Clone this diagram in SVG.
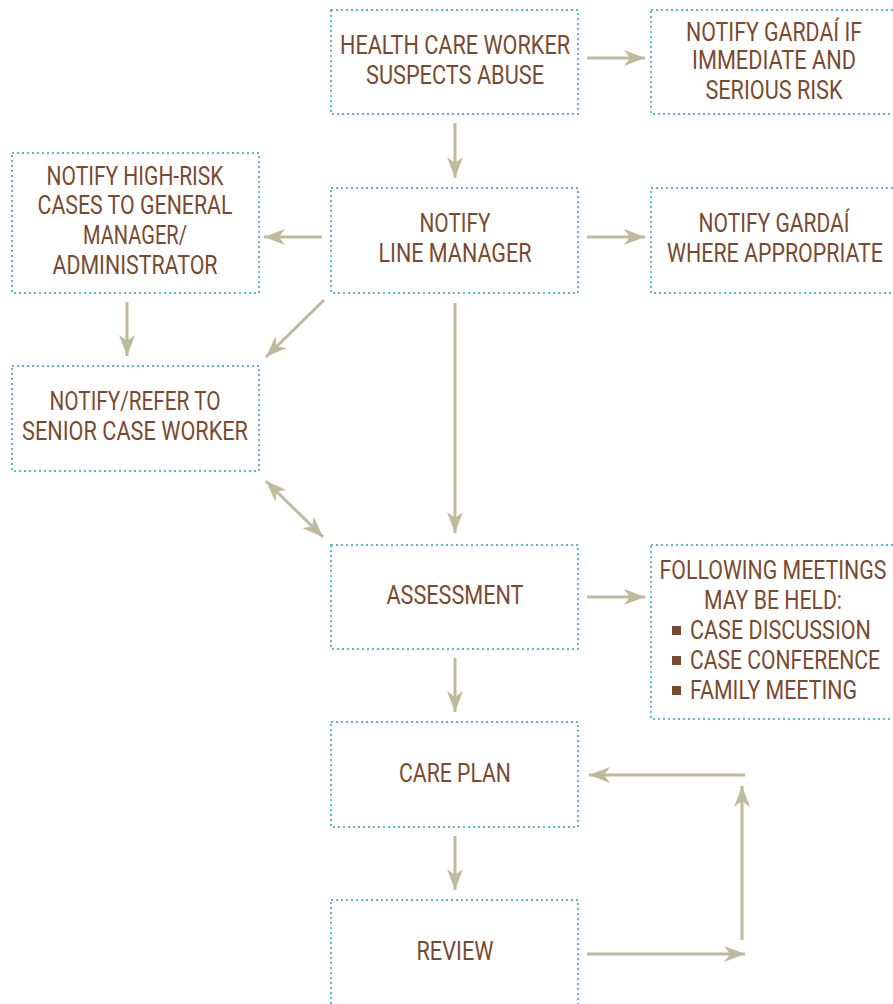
<svg xmlns="http://www.w3.org/2000/svg" width="893" height="1004" viewBox="0 0 893 1004">
<style>
.box{fill:none;stroke:#56bccb;stroke-width:2;stroke-dasharray:2 3}
.t{font-family:Roboto,"Liberation Sans",sans-serif;font-size:26px;fill:#7a4a30;text-anchor:middle}
.tl{font-family:Roboto,"Liberation Sans",sans-serif;font-size:26px;fill:#7a4a30}
.c{stroke:#bdbb9c;stroke-width:3;fill:none}
.bul{fill:#7a4a30}
</style>
<defs>
<marker id="ah" markerUnits="userSpaceOnUse" markerWidth="22" markerHeight="18" viewBox="0 0 22 18" refX="21" refY="9" orient="auto-start-reverse">
<path d="M0,1 L21,9 L0,17 L6,9 z" fill="#bdbb9c"/>
</marker>
</defs>
<rect width="893" height="1004" fill="#ffffff"/>
<g id="connectors">
<line class="c" x1="587" y1="58" x2="645" y2="58" marker-end="url(#ah)"/>
<line class="c" x1="455" y1="123" x2="455" y2="178" marker-end="url(#ah)"/>
<line class="c" x1="322" y1="237" x2="264" y2="237" marker-end="url(#ah)"/>
<line class="c" x1="587" y1="237" x2="645" y2="237" marker-end="url(#ah)"/>
<line class="c" x1="127" y1="302" x2="127" y2="356" marker-end="url(#ah)"/>
<line class="c" x1="324" y1="300" x2="266" y2="357" marker-end="url(#ah)"/>
<line class="c" x1="455" y1="303" x2="455" y2="533" marker-end="url(#ah)"/>
<line class="c" x1="266" y1="481" x2="323" y2="537" marker-start="url(#ah)" marker-end="url(#ah)"/>
<line class="c" x1="587" y1="597" x2="645" y2="597" marker-end="url(#ah)"/>
<line class="c" x1="455" y1="658" x2="455" y2="712" marker-end="url(#ah)"/>
<line class="c" x1="455" y1="836" x2="455" y2="890" marker-end="url(#ah)"/>
<line class="c" x1="587" y1="954" x2="745" y2="954" marker-end="url(#ah)"/>
<line class="c" x1="742" y1="940" x2="742" y2="786" marker-end="url(#ah)"/>
<line class="c" x1="745" y1="775" x2="589" y2="775" marker-end="url(#ah)"/>
</g>
<g id="n-hcw">
<rect class="box" x="331" y="10" width="247" height="104"/>
<text class="t" x="455" y="54" textLength="230" lengthAdjust="spacingAndGlyphs">HEALTH CARE WORKER</text>
<text class="t" x="455" y="84" textLength="178" lengthAdjust="spacingAndGlyphs">SUSPECTS ABUSE</text>
</g>
<g id="n-gardai-immediate">
<rect class="box" x="651" y="10" width="250" height="104"/>
<text class="t" x="774" y="41" textLength="176" lengthAdjust="spacingAndGlyphs">NOTIFY GARDAÍ IF</text>
<text class="t" x="774" y="69" textLength="164" lengthAdjust="spacingAndGlyphs">IMMEDIATE AND</text>
<text class="t" x="774" y="99" textLength="137" lengthAdjust="spacingAndGlyphs">SERIOUS RISK</text>
</g>
<g id="n-highrisk">
<rect class="box" x="12" y="153" width="247" height="140"/>
<text class="t" x="135" y="185" textLength="177" lengthAdjust="spacingAndGlyphs">NOTIFY HIGH-RISK</text>
<text class="t" x="135" y="214" textLength="195" lengthAdjust="spacingAndGlyphs">CASES TO GENERAL</text>
<text class="t" x="135" y="244" textLength="104" lengthAdjust="spacingAndGlyphs">MANAGER/</text>
<text class="t" x="135" y="274" textLength="165" lengthAdjust="spacingAndGlyphs">ADMINISTRATOR</text>
</g>
<g id="n-linemanager">
<rect class="box" x="331" y="188" width="247" height="105"/>
<text class="t" x="455" y="232" textLength="71" lengthAdjust="spacingAndGlyphs">NOTIFY</text>
<text class="t" x="455" y="262" textLength="153" lengthAdjust="spacingAndGlyphs">LINE MANAGER</text>
</g>
<g id="n-gardai-appropriate">
<rect class="box" x="651" y="188" width="250" height="105"/>
<text class="t" x="774" y="232" textLength="151" lengthAdjust="spacingAndGlyphs">NOTIFY GARDAÍ</text>
<text class="t" x="775" y="262" textLength="216" lengthAdjust="spacingAndGlyphs">WHERE APPROPRIATE</text>
</g>
<g id="n-senior">
<rect class="box" x="12" y="366" width="247" height="105"/>
<text class="t" x="135" y="410" textLength="171" lengthAdjust="spacingAndGlyphs">NOTIFY/REFER TO</text>
<text class="t" x="135" y="440" textLength="226" lengthAdjust="spacingAndGlyphs">SENIOR CASE WORKER</text>
</g>
<g id="n-assessment">
<rect class="box" x="331" y="545" width="247" height="104"/>
<text class="t" x="455" y="604" textLength="137" lengthAdjust="spacingAndGlyphs">ASSESSMENT</text>
</g>
<g id="n-meetings">
<rect class="box" x="651" y="545" width="250" height="174"/>
<text class="t" x="773" y="579" textLength="227" lengthAdjust="spacingAndGlyphs">FOLLOWING MEETINGS</text>
<text class="t" x="773" y="609" textLength="138" lengthAdjust="spacingAndGlyphs">MAY BE HELD:</text>
<rect class="bul" x="672" y="626" width="9" height="9"/>
<text class="tl" x="690" y="639" textLength="181" lengthAdjust="spacingAndGlyphs">CASE DISCUSSION</text>
<rect class="bul" x="672" y="656" width="9" height="9"/>
<text class="tl" x="690" y="669" textLength="190" lengthAdjust="spacingAndGlyphs">CASE CONFERENCE</text>
<rect class="bul" x="672" y="686" width="9" height="9"/>
<text class="tl" x="690" y="699" textLength="167" lengthAdjust="spacingAndGlyphs">FAMILY MEETING</text>
</g>
<g id="n-careplan">
<rect class="box" x="331" y="722" width="247" height="105"/>
<text class="t" x="455" y="782" textLength="112" lengthAdjust="spacingAndGlyphs">CARE PLAN</text>
</g>
<g id="n-review">
<rect class="box" x="331" y="900" width="247" height="110"/>
<text class="t" x="455" y="960" textLength="77" lengthAdjust="spacingAndGlyphs">REVIEW</text>
</g>
</svg>
